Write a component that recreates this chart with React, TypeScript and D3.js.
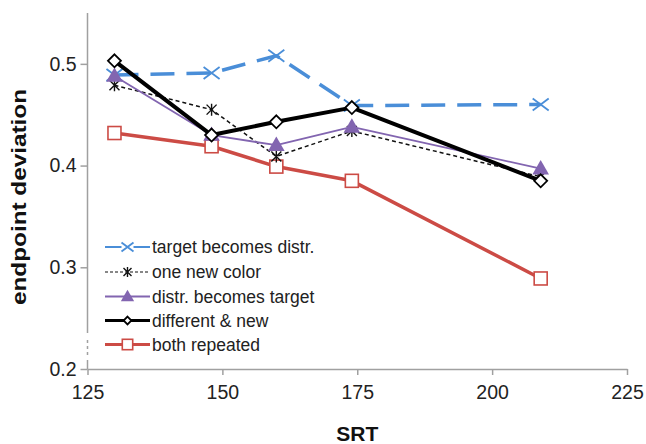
import React, { useRef, useEffect } from "react";
import * as d3 from "d3";

// SRT values (x) shared by every series
const srt = [130, 148, 160, 174, 209];

const targetBecomesDistr = [0.489, 0.491, 0.508, 0.459, 0.46];
const oneNewColor = [0.479, 0.455, 0.409, 0.434, 0.389];
const distrBecomesTarget = [0.488, 0.43, 0.42, 0.438, 0.397];
const differentAndNew = [0.503, 0.43, 0.443, 0.457, 0.385];
const bothRepeated = [0.432, 0.419, 0.399, 0.385, 0.289];

const xTicks = [125, 150, 175, 200, 225];
const yTicks = [0.2, 0.3, 0.4, 0.5];

const BLUE = "#4a8ed8";
const PURPLE = "#8265b0";
const RED = "#cc4b45";

const series = [
  { name: "target becomes distr.", values: targetBecomesDistr, color: BLUE, width: 3.5, dash: "24,12", marker: "x" },
  { name: "one new color", values: oneNewColor, color: "#111", width: 1.5, dash: "4,3", marker: "star" },
  { name: "distr. becomes target", values: distrBecomesTarget, color: PURPLE, width: 1.8, dash: null, marker: "triangle" },
  { name: "different & new", values: differentAndNew, color: "#000", width: 4, dash: null, marker: "diamond" },
  { name: "both repeated", values: bothRepeated, color: RED, width: 3.5, dash: null, marker: "square" },
];

export default function App({ width = 646, height = 444 }) {
  const svgRef = useRef<SVGSVGElement>(null);

  useEffect(() => {
    const x = d3.scaleLinear().domain([125, 225]).range([87.5, 627]);
    const y = d3.scaleLinear().domain([0.2, 0.55]).range([369, 13]);

    const svg = d3.select(svgRef.current);
    svg.selectAll("*").remove();
    svg.append("rect").attr("width", width).attr("height", height).attr("fill", "#fff");

    const axisColor = "#a0a0a0";
    const font = "Liberation Sans, Arial, sans-serif";

    // x axis
    const gx = svg.append("g")
      .attr("transform", `translate(0,${y(0.2)})`)
      .call(d3.axisBottom(x).tickValues(xTicks).tickSize(6).tickSizeOuter(0).tickPadding(12));
    gx.select(".domain").attr("stroke", axisColor).attr("stroke-width", 1.5);
    gx.selectAll(".tick line").attr("stroke", axisColor).attr("stroke-width", 1.5);
    gx.selectAll(".tick text").attr("font-family", font).attr("font-size", 19.5).attr("fill", "#222").attr("dy", "0.6em");

    // y axis (domain drawn by hand to get the break near the bottom)
    const gy = svg.append("g")
      .attr("transform", `translate(${x(125)},0)`)
      .call(d3.axisLeft(y).tickValues(yTicks).tickFormat(d3.format(".1f")).tickSize(7).tickPadding(4));
    gy.select(".domain").remove();
    gy.selectAll(".tick line").attr("stroke", axisColor).attr("stroke-width", 1.5);
    gy.selectAll(".tick text").attr("font-family", font).attr("font-size", 19.5).attr("fill", "#222");

    const ax = x(125);
    svg.append("line").attr("x1", ax).attr("x2", ax).attr("y1", y(0.55)).attr("y2", 333)
      .attr("stroke", axisColor).attr("stroke-width", 1.5);
    svg.append("line").attr("x1", ax).attr("x2", ax).attr("y1", 340).attr("y2", 358)
      .attr("stroke", axisColor).attr("stroke-width", 1.5).attr("stroke-dasharray", "3,3");
    svg.append("line").attr("x1", ax).attr("x2", ax).attr("y1", 360).attr("y2", y(0.2))
      .attr("stroke", axisColor).attr("stroke-width", 1.5);

    // axis titles
    svg.append("text")
      .attr("x", (x(125) + x(225)) / 2).attr("y", 441)
      .attr("text-anchor", "middle").attr("font-family", font).attr("font-weight", "bold")
      .attr("font-size", 21).attr("fill", "#111").text("SRT");
    svg.append("text")
      .attr("transform", "translate(26,197) rotate(-90)")
      .attr("text-anchor", "middle").attr("font-family", font).attr("font-weight", "bold")
      .attr("font-size", 20).attr("fill", "#111")
      .attr("textLength", 216).attr("lengthAdjust", "spacingAndGlyphs")
      .text("endpoint deviation");

    const drawMarker = (g, type, color, cx, cy, scale = 1) => {
      if (type === "x") {
        const w = 8 * scale, h = 6 * scale;
        g.append("path").attr("d", `M${cx - w},${cy - h}L${cx + w},${cy + h}M${cx - w},${cy + h}L${cx + w},${cy - h}`)
          .attr("stroke", color).attr("stroke-width", 1.8).attr("fill", "none");
      } else if (type === "star") {
        const s = 5 * scale;
        g.append("path").attr("d", `M${cx - s},${cy - s}L${cx + s},${cy + s}M${cx - s},${cy + s}L${cx + s},${cy - s}M${cx},${cy - s - 1}L${cx},${cy + s + 1}`)
          .attr("stroke", color).attr("stroke-width", 1.4).attr("fill", "none");
      } else if (type === "triangle") {
        g.append("path").attr("d", d3.symbol(d3.symbolTriangle, 120 * scale * scale)())
          .attr("transform", `translate(${cx},${cy + 1})`).attr("fill", color);
      } else if (type === "diamond") {
        const s = 6.5 * scale;
        g.append("path").attr("d", `M${cx},${cy - s}L${cx + s},${cy}L${cx},${cy + s}L${cx - s},${cy}Z`)
          .attr("fill", "#fff").attr("stroke", "#000").attr("stroke-width", 1.8);
      } else if (type === "square") {
        const s = 6.5 * scale;
        g.append("rect").attr("x", cx - s).attr("y", cy - s).attr("width", 2 * s).attr("height", 2 * s)
          .attr("fill", "#fff").attr("stroke", color).attr("stroke-width", 1.6);
      }
    };

    const line = d3.line<number>().x((d, i) => x(srt[i])).y(d => y(d));

    // draw red first so it sits underneath
    const order = [4, 0, 1, 2, 3];
    order.forEach(k => {
      const s = series[k];
      const g = svg.append("g");
      g.append("path").attr("d", line(s.values)).attr("fill", "none")
        .attr("stroke", s.color).attr("stroke-width", s.width)
        .attr("stroke-linejoin", "round")
        .attr("stroke-dasharray", s.dash);
      s.values.forEach((v, i) => drawMarker(g, s.marker, s.color, x(srt[i]), y(v)));
    });

    // legend
    const legendY = [247, 272, 296.5, 320.5, 344.5];
    const lx0 = 105, lx1 = 150, lmid = 127.5;
    series.forEach((s, i) => {
      const g = svg.append("g");
      const ly = legendY[i];
      const lw = i === 0 ? 2 : i === 1 ? 1.2 : i === 2 ? 1.8 : 3;
      if (i === 0) {
        g.append("line").attr("x1", lx0).attr("x2", lmid - 6).attr("y1", ly).attr("y2", ly).attr("stroke", s.color).attr("stroke-width", lw);
        g.append("line").attr("x1", lmid + 6).attr("x2", lx1).attr("y1", ly).attr("y2", ly).attr("stroke", s.color).attr("stroke-width", lw);
      } else {
        g.append("line").attr("x1", lx0).attr("x2", lx1).attr("y1", ly).attr("y2", ly)
          .attr("stroke", s.color).attr("stroke-width", lw).attr("stroke-dasharray", s.dash ? "3,2" : null);
      }
      drawMarker(g, s.marker, s.color, lmid, ly, s.marker === "diamond" ? 0.6 : s.marker === "x" ? 0.75 : 0.8);
      g.append("text").attr("x", 152).attr("y", ly).attr("dy", "0.35em")
        .attr("font-family", font).attr("font-size", 17.5).attr("fill", "#222").text(s.name);
    });
  }, [width, height]);

  return (
    <svg ref={svgRef} width={width} height={height} style={{ position: "absolute", left: 0, top: 0 }}></svg>
  );
}
